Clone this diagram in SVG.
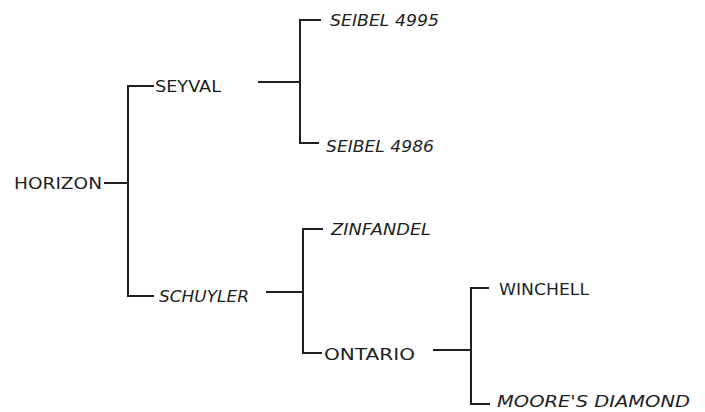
<svg xmlns="http://www.w3.org/2000/svg" width="705" height="412" viewBox="0 0 705 412">
  <style>
    .lbl { font-family: "DejaVu Sans", "Liberation Sans", sans-serif; font-size: 16.5px; fill: #1e1e1e; }
    .it { font-style: italic; }
    .ln { stroke: #1e1e1e; stroke-width: 2; fill: none; stroke-linecap: square; }
  </style>
  <rect width="705" height="412" fill="#ffffff"/>

  <g id="connectors">
    <!-- HORIZON to its parents -->
    <path class="ln" d="M105 183 H128 M153 86 H128 V296 H153"/>
    <!-- SEYVAL to its parents -->
    <path class="ln" d="M259 82 H300 M320 20 H300 V143 H318"/>
    <!-- SCHUYLER to its parents -->
    <path class="ln" d="M267 292 H303 M322 229 H303 V353 H321"/>
    <!-- ONTARIO to its parents -->
    <path class="ln" d="M434 350 H471 M488 288 H471 V404 H489"/>
  </g>

  <g id="horizon"><text class="lbl" x="14" y="189" textLength="88" lengthAdjust="spacingAndGlyphs">HORIZON</text></g>
  <g id="seyval"><text class="lbl" x="155" y="92" textLength="66" lengthAdjust="spacingAndGlyphs">SEYVAL</text></g>
  <g id="schuyler"><text class="lbl it" x="159" y="302" textLength="90" lengthAdjust="spacingAndGlyphs">SCHUYLER</text></g>
  <g id="seibel-4995"><text class="lbl it" x="330" y="26" textLength="109" lengthAdjust="spacingAndGlyphs">SEIBEL 4995</text></g>
  <g id="seibel-4986"><text class="lbl it" x="326" y="152" textLength="108" lengthAdjust="spacingAndGlyphs">SEIBEL 4986</text></g>
  <g id="zinfandel"><text class="lbl it" x="331" y="235" textLength="100" lengthAdjust="spacingAndGlyphs">ZINFANDEL</text></g>
  <g id="ontario"><text class="lbl" x="324" y="360" textLength="91" lengthAdjust="spacingAndGlyphs">ONTARIO</text></g>
  <g id="winchell"><text class="lbl" x="499" y="295" textLength="90" lengthAdjust="spacingAndGlyphs">WINCHELL</text></g>
  <g id="moores-diamond"><text class="lbl it" x="497" y="407" textLength="193" lengthAdjust="spacingAndGlyphs">MOORE'S DIAMOND</text></g>
</svg>
